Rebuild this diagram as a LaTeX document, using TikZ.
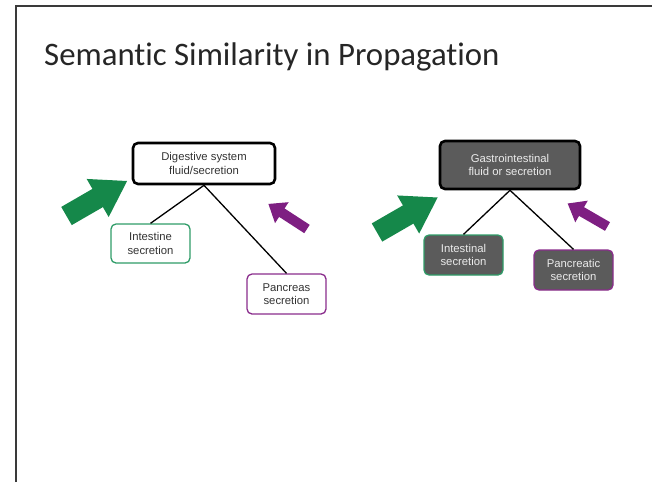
\documentclass[tikz,border=0pt]{standalone}
\usepackage{fontspec}
\setmainfont{Liberation Sans}
\newfontfamily\titlefont[Ligatures=NoCommon]{Carlito}
\definecolor{arrowgreen}{HTML}{15884A}
\definecolor{arrowpurple}{HTML}{7E1F82}
\definecolor{edgegreen}{HTML}{2F9C68}
\definecolor{edgepurple}{HTML}{8A2D8C}
\definecolor{boxgray}{HTML}{5B5B5B}
\definecolor{framegray}{HTML}{3A3A3A}
\begin{document}
\begin{tikzpicture}[x=1pt,y=-1pt,
  box/.style={draw, rounded corners=5pt, align=center, inner sep=2pt,
    font=\fontsize{11.3}{13.5}\selectfont, minimum width=79pt, minimum height=40pt},
  lightbox/.style={box, fill=white, text=black!80},
  darkbox/.style={box, fill=boxgray, text=black!8},
  link/.style={draw=black, line width=1.3pt},
  blockarrow/.style={fill=#1, draw=none}
]
\useasboundingbox (0,0) rectangle (652,482);

% slide frame (top and left edges)
\draw[framegray, line width=2pt] (16,482) -- (16,6) -- (652,6);

% title
\node[anchor=west, inner sep=0pt, font=\titlefont\fontsize{32.8}{38}\selectfont, text=black!85]
  (title) at (44,57) {Semantic Similarity in Propagation};

% ---- left hierarchy ----
\node[lightbox, line width=2.6pt, minimum width=142pt, minimum height=41pt]
  (ltop) at (204,163.5) {Digestive system\\fluid/secretion};
\node[lightbox, draw=edgegreen, line width=1.3pt, minimum height=39pt]
  (lint) at (150.5,243.5) {Intestine\\secretion};
\node[lightbox, draw=edgepurple, line width=1.3pt]
  (lpan) at (286.5,294) {Pancreas\\secretion};
\draw[link] (ltop.south) -- (lint.north);
\draw[link] (ltop.south) -- (lpan.north);

% ---- right hierarchy ----
\node[darkbox, line width=2.6pt, minimum width=140pt, minimum height=48pt]
  (rtop) at (510,165) {Gastrointestinal\\fluid or secretion};
\node[darkbox, draw=edgegreen, line width=1.3pt]
  (rint) at (463.5,255) {Intestinal\\secretion};
\node[darkbox, draw=edgepurple, line width=1.3pt]
  (rpan) at (573.5,270) {Pancreatic\\secretion};
\draw[link] (rtop.south) -- (rint.north);
\draw[link] (rtop.south) -- (rpan.north);

% ---- block arrows: shift = tail centre, rotate = direction ----
% large green arrows (length 70, shaft 21, head 44 wide, 34 long)
\foreach \tx/\ty in {66.5/216, 377/232.5}{
  \fill[blockarrow=arrowgreen, shift={(\tx,\ty)}, rotate=30]
    (0,-10.5) -- (36,-10.5) -- (36,-22) -- (70,0) -- (36,22) -- (36,10.5) -- (0,10.5) -- cycle;
}
% small purple arrows (length 46, shaft 10, head 25 wide, 16 long)
\foreach \tx/\ty/\ang in {307/229/147, 607.5/226.5/150}{
  \fill[blockarrow=arrowpurple, shift={(\tx,\ty)}, rotate=\ang]
    (0,-5) -- (30,-5) -- (30,-12.5) -- (46,0) -- (30,12.5) -- (30,5) -- (0,5) -- cycle;
}
\end{tikzpicture}
\end{document}
